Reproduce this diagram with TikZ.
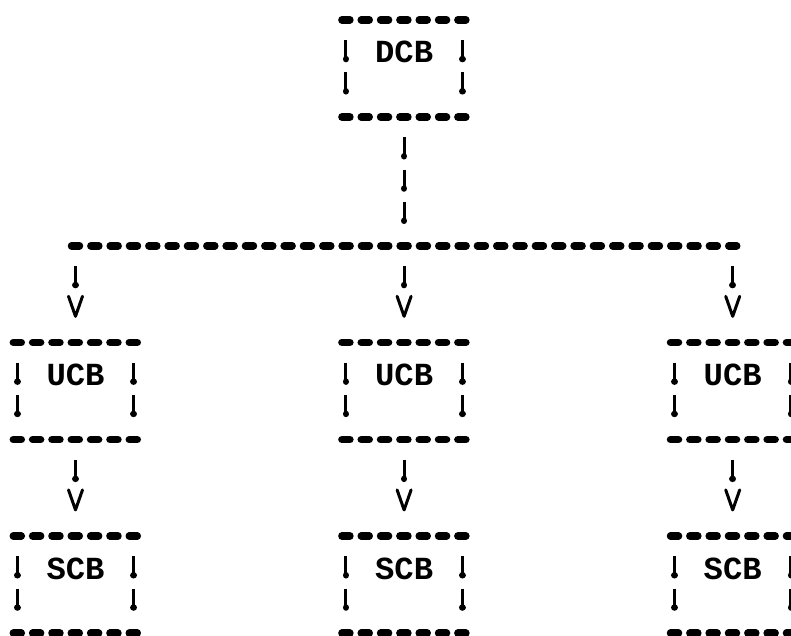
\documentclass[tikz,border=0pt]{standalone}
\usepackage{fontspec}
\newfontfamily\termfont{Liberation Mono}
\usetikzlibrary{arrows.meta}
\tikzset{
  hdash/.style={line width=7.5pt, line cap=round, dash pattern=on 8pt off 11.33pt},
  cbnode/.style={rectangle, inner sep=0pt, minimum width=116pt, minimum height=96.8pt,
    text height=42.9pt, text depth=53.9pt,
    font=\termfont\bfseries\fontsize{32.2pt}{32.2pt}\selectfont},
  vbars/.style={line width=3pt, dash pattern=on 19pt off 13.26pt, dash phase=22pt,
    shorten <=10pt, shorten >=13pt,
    postaction={draw, line width=6.5pt, line cap=round,
      dash pattern=on 0.01pt off 32.25pt, dash phase=3pt}},
  arrlink/.style={line width=3pt, dash pattern=on 19pt off 45.52pt, dash phase=44.26pt,
    shorten >=24.6pt, -{Straight Barb[length=20pt,width=14pt,round]},
    postaction={draw, -, line width=6.5pt, line cap=round,
      dash pattern=on 0.01pt off 64.51pt, dash phase=25.26pt}},
}
\newcommand\cbframe[1]{%
  \draw[hdash] ([xshift=-4pt]#1.north west) -- ([xshift=4pt]#1.north east);
  \draw[hdash] ([xshift=-4pt]#1.south west) -- ([xshift=4pt]#1.south east);
  \draw[vbars] (#1.north west) -- (#1.south west);
  \draw[vbars] (#1.north east) -- (#1.south east);
}
\begin{document}
\begin{tikzpicture}[x=1pt,y=-1pt]
\useasboundingbox (0,0) rectangle (791,635);
% boxes
\node[cbnode] (dcb)  at (404.1,68.4)  {DCB};
\node[cbnode] (ucbA) at (75.5,391.0)  {UCB};
\node[cbnode] (ucbB) at (404.1,391.0) {UCB};
\node[cbnode] (ucbC) at (732.7,391.0) {UCB};
\node[cbnode] (scbA) at (75.5,584.6)  {SCB};
\node[cbnode] (scbB) at (404.1,584.6) {SCB};
\node[cbnode] (scbC) at (732.7,584.6) {SCB};
\cbframe{dcb}
\cbframe{ucbA}\cbframe{ucbB}\cbframe{ucbC}
\cbframe{scbA}\cbframe{scbB}\cbframe{scbC}
% bus
\coordinate (busL) at (75.5,245.8);
\coordinate (busR) at (732.7,245.8);
\coordinate (busM) at (dcb.south |- busL);
\draw[hdash] ([xshift=-4pt]busL) -- ([xshift=4pt]busR);
\draw[vbars] (dcb.south) -- (busM);
% links
\draw[arrlink] (busL) -- (ucbA.north);
\draw[arrlink] (busM) -- (ucbB.north);
\draw[arrlink] (busR) -- (ucbC.north);
\draw[arrlink] (ucbA.south) -- (scbA.north);
\draw[arrlink] (ucbB.south) -- (scbB.north);
\draw[arrlink] (ucbC.south) -- (scbC.north);
\end{tikzpicture}
\end{document}
